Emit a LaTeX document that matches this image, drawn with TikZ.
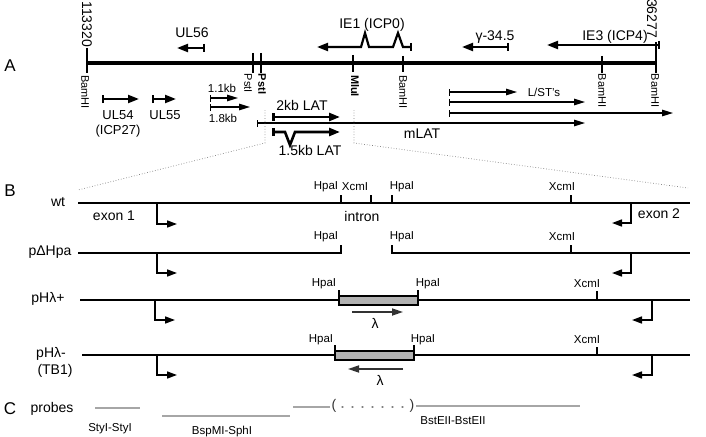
\documentclass[tikz,border=0pt]{standalone}
\usepackage{fontspec}
\setmainfont{Liberation Sans}
\usetikzlibrary{arrows.meta}
\begin{document}
\begin{tikzpicture}[x=1pt,y=-1pt,
  every node/.style={inner sep=0pt, outer sep=0pt},
  big/.style={font=\fontsize{17}{19}\selectfont},
  lbl/.style={font=\fontsize{14}{16}\selectfont},
  sm/.style={font=\fontsize{11.5}{13}\selectfont},
  rsm/.style={font=\fontsize{11}{13}\selectfont, rotate=-90, anchor=west},
  backbone/.style={line width=4pt},
  tick/.style={line width=1.3pt},
  gthick/.style={line width=2.2pt, line join=miter, {Bar[width=8pt]}-{Triangle[length=11pt,width=8pt]}},
  gthin/.style={line width=1.3pt, {Bar[width=7pt]}-{Triangle[length=11pt,width=6.5pt]}},
  cons/.style={line width=1.8pt},
  prom/.style={line width=1.6pt, -{Triangle[length=10pt,width=7pt]}},
  zoomline/.style={gray, dotted, line width=0.7pt},
  probe/.style={gray!70, line width=2.2pt},
  ins/.style={draw=black, line width=2pt, fill=gray!60},
]
\useasboundingbox (0,0) rectangle (706,436);

% ---------------- A ----------------
\node[big] (lA) at (10,66) {A};
\draw[backbone] (87,63) -- (656,63);
\foreach \x/\a/\b in {87/48/73, 253/53/73, 261/53/73, 353/55/72, 403/56/72, 602/56/73, 656/42/73}
  \draw[tick] (\x,\a) -- (\x,\b);
\node[lbl, rotate=-90, anchor=east] (c1) at (87,47) {113320};
\node[lbl, rotate=-90, anchor=east] (c2) at (652,38) {36277};
\node[rsm] (b1) at (85,75) {BamHI};
\node[rsm] (p1) at (248,74) {PstI};
\node[rsm] (p2) at (262,74) {\bfseries PstI};
\node[rsm] (m1) at (355,75) {\bfseries MluI};
\node[rsm] (b2) at (403,75) {BamHI};
\node[rsm] (b3) at (602,74) {BamHI};
\node[rsm] (b4) at (655,74) {BamHI};

% genes above
\node[lbl] (tUL56) at (192,33) {UL56};
\draw[gthick] (205,48) -- (177,48);
\node[lbl] (tIE1) at (372,25) {IE1 (ICP0)};
\draw[gthick] (412,47) -- (403,47) -- (398,33) -- (393,47) -- (369,47) -- (365,33) -- (361,47) -- (317,47);
\node[lbl] (tg) at (495,37) {γ-34.5};
\draw[gthick] (509,47) -- (462,47);
\node[lbl] (tIE3) at (615,37) {IE3 (ICP4)};
\draw[gthick] (660,45) -- (547,45);

% genes below
\draw[gthick] (102,99) -- (139,99);
\node[lbl, font=\fontsize{13}{15}\selectfont] (tUL54) at (118,115) {UL54};
\node[lbl, font=\fontsize{13}{15}\selectfont] (tICP27) at (118,131) {(ICP27)};
\draw[gthick] (152,99) -- (176,99);
\node[lbl, font=\fontsize{13}{15}\selectfont] (tUL55) at (165,115) {UL55};
\draw[gthin] (210,98) -- (238,98);
\node[sm] (t11) at (222,88) {1.1kb};
\draw[gthin] (210,107) -- (250,107);
\node[sm] (t18) at (223,118) {1.8kb};
\draw[gthin] (257,123) -- (585,123);
\node[lbl] (tmLAT) at (422,134) {mLAT};
\draw[gthick, line width=2.6pt] (272,117) -- (340,117);
\node[lbl] (t2kb) at (302,105) {2kb LAT};
\draw[gthick, line width=2.6pt] (272,132) -- (285,132) -- (290,145) -- (295,132) -- (340,132);
\node[lbl] (t15kb) at (310,150) {1.5kb LAT};
\draw[gthin] (449,92) -- (517,92);
\draw[gthin] (449,102) -- (585,102);
\draw[gthin] (449,113) -- (673,113);
\node[sm] (tLST) at (544,92) {L/ST's};

% zoom lines
\draw[zoomline] (265,110) -- (265,143) -- (78,190);
\draw[zoomline] (354,110) -- (354,143) -- (688,188);

% ---------------- B ----------------
\node[big] (lB) at (10,191) {B};
% wt
\node[lbl] (twt) at (58,202) {wt};
\draw[cons] (78,203) -- (690,203);
\foreach \x in {341,371,392,571} \draw[tick] (\x,195) -- (\x,203);
\node[sm] (h1) at (326,187) {HpaI};
\node[sm] (x1) at (355,187) {XcmI};
\node[sm] (h2) at (402,187) {HpaI};
\node[sm] (x2) at (562,187) {XcmI};
\node[lbl] (te1) at (114,216) {exon 1};
\node[lbl] (tin) at (362,216) {intron};
\node[lbl] (te2) at (659,214) {exon 2};
\draw[prom] (157,203) -- (157,224) -- (177,224);
\draw[prom] (631,203) -- (631,223) -- (612,223);
% pdeltaHpa
\node[lbl] (tdH) at (50,252) {pΔHpa};
\draw[cons] (78,253) -- (341,253) -- (341,245);
\draw[cons] (392,245) -- (392,253) -- (690,253);
\draw[tick] (571,245) -- (571,253);
\node[sm] (h3) at (326,237) {HpaI};
\node[sm] (h4) at (402,237) {HpaI};
\node[sm] (x3) at (562,237) {XcmI};
\draw[prom] (157,253) -- (157,273) -- (177,273);
\draw[prom] (631,253) -- (631,273) -- (612,273);
% pHlambda+
\node[lbl] (tHp) at (48,299) {pHλ+};
\draw[cons] (80,300) -- (690,300);
\draw[ins] (339,296) rectangle (418,305);
\draw[tick] (339,290) -- (339,296);
\draw[tick] (418,290) -- (418,296);
\draw[tick] (597,291) -- (597,300);
\node[sm] (h5) at (324,284) {HpaI};
\node[sm] (h6) at (428,284) {HpaI};
\node[sm] (x4) at (587,284) {XcmI};
\draw[line width=1.7pt, black!80, -{Triangle[length=11pt,width=7pt]}] (352,312) -- (403,312);
\node[lbl] (lam1) at (375,323) {λ};
\draw[prom] (155,300) -- (155,320) -- (175,320);
\draw[prom] (652,300) -- (652,320) -- (632,320);
% pHlambda-
\node[lbl] (tHm) at (51,354) {pHλ-};
\node[lbl] (tTB1) at (55,371) {(TB1)};
\draw[cons] (82,355) -- (690,355);
\draw[ins] (335,351) rectangle (414,360);
\draw[tick] (335,345) -- (335,351);
\draw[tick] (414,345) -- (414,351);
\draw[tick] (597,347) -- (597,355);
\node[sm] (h7) at (321,340) {HpaI};
\node[sm] (h8) at (423,340) {HpaI};
\node[sm] (x5) at (587,340) {XcmI};
\draw[line width=1.7pt, black!80, -{Triangle[length=11pt,width=7pt]}] (403,369) -- (348,369);
\node[lbl] (lam2) at (380,380) {λ};
\draw[prom] (157,355) -- (157,375) -- (177,375);
\draw[prom] (652,355) -- (652,375) -- (632,375);

% ---------------- C ----------------
\node[big] (lC) at (10,409) {C};
\node[lbl] (tpr) at (52,409) {probes};
\draw[probe] (95,408) -- (140,408);
\node[sm] (s1) at (110,429) {StyI-StyI};
\draw[probe] (162,416) -- (290,416);
\node[sm] (s2) at (222,432) {BspMI-SphI};
\draw[probe] (293,407) -- (330,407);
\node[lbl, gray!40!black] (po) at (334,406) {(};
\draw[gray, line width=1.3pt, dash pattern=on 1pt off 9pt, line cap=round] (342,407) -- (406,407);
\node[lbl, gray!40!black] (pc) at (412,406) {)};
\draw[probe] (416,406) -- (580,406);
\node[sm] (s3) at (453,421) {BstEII-BstEII};
\end{tikzpicture}
\end{document}
